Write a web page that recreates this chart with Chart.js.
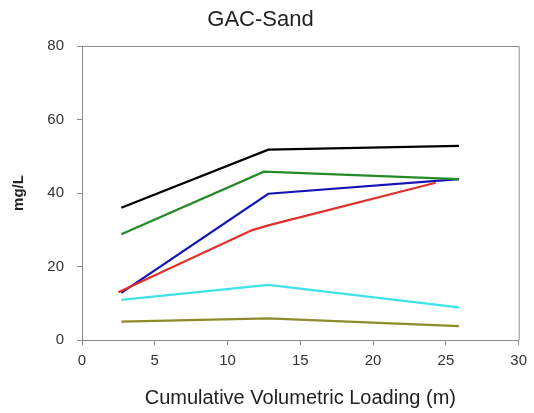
<!DOCTYPE html>
<html>
<head>
<meta charset="utf-8">
<script src="https://cdn.jsdelivr.net/npm/chart.js@4"></script>
<style>
html,body{margin:0;padding:0;background:#fff;}
#wrap{width:534px;height:413px;}
</style>
</head>
<body>
<div id="wrap"><canvas id="c" width="534" height="413"></canvas></div>
<script>
const xTicks = [0, 5, 10, 15, 20, 25, 30];
const yTicks = [0, 20, 40, 60, 80];

const xCommon = [2.7, 12.8, 25.9];
const xGreen = [2.7, 12.5, 25.9];
const xRed = [2.5, 11.7, 12.8, 24.3];

const blackY = [36, 51.8, 52.8];
const greenY = [28.8, 45.8, 43.8];
const blueY = [12.8, 39.8, 43.8];
const redY = [13, 29.9, 31.2, 42.8];
const cyanY = [10.9, 15, 8.9];
const oliveY = [5, 5.9, 3.8];

function pts(xs, ys){ return xs.map((x,i)=>({x:x, y:ys[i]})); }

const boxPlugin = {
  id:'box',
  afterDraw(chart){
    const {ctx, chartArea:a} = chart;
    ctx.save();
    ctx.strokeStyle = '#8a8a8a';
    ctx.lineWidth = 1;
    ctx.beginPath();
    ctx.moveTo(a.left, a.top + 0.5);
    ctx.lineTo(a.right + 0.5, a.top + 0.5);
    ctx.lineTo(a.right + 0.5, a.bottom);
    ctx.stroke();
    ctx.restore();
  }
};

function ds(data, color){
  return {data:data, borderColor:color, backgroundColor:color, borderWidth:2.2, pointRadius:0, tension:0, fill:false};
}

const FONT = 'Liberation Sans, Arial, sans-serif';

new Chart(document.getElementById('c'), {
  type:'line',
  data:{
    datasets:[
      ds(pts(xCommon, oliveY), '#8c8c2a'),
      ds(pts(xCommon, cyanY), '#3ee3ea'),
      ds(pts(xRed, redY), '#e0302c'),
      ds(pts(xGreen, greenY), '#248a28'),
      ds(pts(xCommon, blueY), '#1414b4'),
      ds(pts(xCommon, blackY), '#000000')
    ]
  },
  options:{
    responsive:false,
    animation:false,
    devicePixelRatio:1,
    layout:{padding:{left:0, right:13, top:0, bottom:0}},
    plugins:{
      legend:{display:false},
      tooltip:{enabled:false},
      title:{display:true, text:'GAC-Sand', color:'#222', font:{family:FONT, size:22, weight:'normal'}, padding:{top:7, bottom:12.6}}
    },
    scales:{
      x:{
        type:'linear', min:0, max:30,
        afterBuildTicks(s){ s.ticks = xTicks.map(v=>({value:v})); },
        afterFit(s){ s.height = 73; },
        grid:{drawOnChartArea:false, tickLength:5, color:'#8a8a8a'},
        border:{color:'#8a8a8a'},
        ticks:{color:'#333', padding:7, maxRotation:0, font:{family:FONT, size:15}},
        title:{display:true, text:'Cumulative Volumetric Loading (m)', color:'#222', font:{family:FONT, size:20}, padding:{top:0, bottom:3}}
      },
      y:{
        min:0, max:80,
        afterBuildTicks(s){ s.ticks = yTicks.map(v=>({value:v})); },
        afterFit(s){ s.width = 82; },
        grid:{drawOnChartArea:false, tickLength:5, color:'#8a8a8a'},
        border:{color:'#8a8a8a'},
        ticks:{color:'#333', padding:13, font:{family:FONT, size:15}},
        title:{display:true, text:'mg/L', color:'#222', font:{family:FONT, size:15, weight:'bold'}, padding:{top:10, bottom:0}}
      }
    }
  },
  plugins:[boxPlugin]
});
</script>
</body>
</html>
